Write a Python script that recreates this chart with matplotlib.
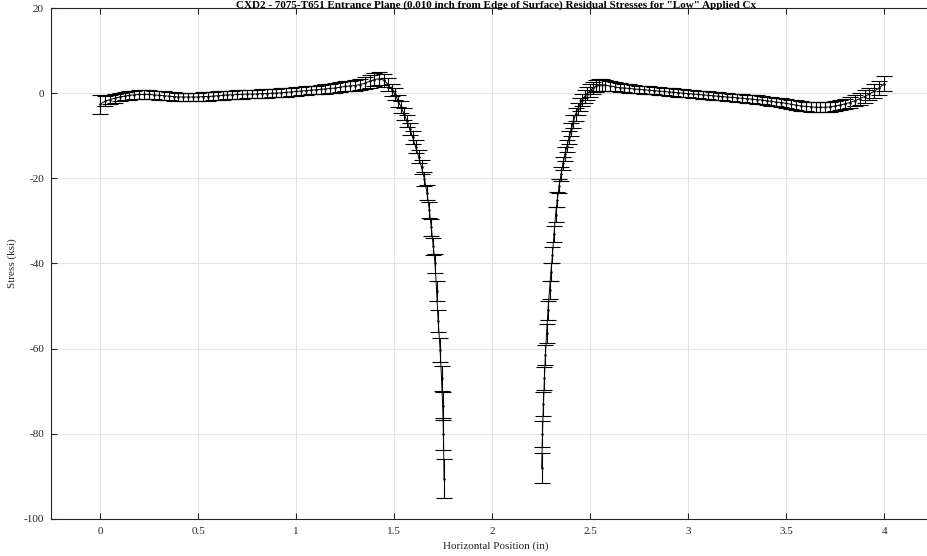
"""CXD2 entrance-plane residual stress profile with error bars."""

import matplotlib
matplotlib.use("Agg")
import matplotlib.pyplot as plt
from matplotlib.ticker import FuncFormatter, MultipleLocator

TITLE = ('CXD2 - 7075-T651 Entrance Plane (0.010 inch from Edge of Surface) '
         'Residual Stresses for "Low" Applied Cx')

# left branch (before the gap)
left_x = [0.000, 0.025, 0.050, 0.075, 0.100, 0.125, 0.150, 0.175, 0.200, 0.225,
          0.250, 0.275, 0.300, 0.325, 0.350, 0.375, 0.400, 0.425, 0.450, 0.475,
          0.500, 0.525, 0.550, 0.575, 0.600, 0.625, 0.650, 0.675, 0.700, 0.725,
          0.750, 0.775, 0.800, 0.825, 0.850, 0.875, 0.900, 0.925, 0.950, 0.975,
          1.000, 1.025, 1.050, 1.075, 1.100, 1.125, 1.150, 1.175, 1.200, 1.225,
          1.250, 1.275, 1.300, 1.325, 1.350, 1.375, 1.400, 1.425, 1.450, 1.470,
          1.490, 1.505, 1.520, 1.535, 1.550, 1.565, 1.580, 1.595, 1.610, 1.625,
          1.640, 1.655, 1.668, 1.680, 1.690, 1.700, 1.709, 1.717, 1.725, 1.735,
          1.742, 1.748, 1.752, 1.755]
left_y = [-2.6, -1.9, -1.5, -1.2, -0.9, -0.7, -0.5, -0.4, -0.3, -0.3,
          -0.3, -0.4, -0.5, -0.6, -0.7, -0.8, -0.9, -0.9, -0.9, -0.9,
          -0.9, -0.8, -0.8, -0.7, -0.6, -0.5, -0.4, -0.4, -0.3, -0.3,
          -0.2, -0.2, -0.2, -0.1, -0.1, 0.0, 0.0, 0.1, 0.2, 0.3,
          0.4, 0.5, 0.6, 0.7, 0.8, 0.9, 1.0, 1.1, 1.2, 1.4,
          1.6, 1.7, 1.8, 2.0, 2.3, 2.8, 3.2, 3.4, 3.0, 2.0,
          0.8, -0.3, -1.8, -3.2, -4.8, -6.5, -8.4, -10.4, -12.6, -14.9,
          -17.4, -20.2, -23.4, -27.5, -31.5, -36.0, -40.0, -46.5, -53.5, -60.3,
          -67.0, -73.5, -80.0, -90.5]
left_err = [2.2, 1.2, 1.0, 1.0, 1.0, 1.0, 1.0, 1.0, 1.0, 1.0,
            1.0, 1.0, 1.0, 1.0, 1.0, 1.0, 1.0, 1.0, 1.0, 1.0,
            1.0, 1.0, 1.0, 1.0, 1.0, 1.0, 1.0, 1.0, 1.0, 1.0,
            1.0, 1.0, 1.0, 1.0, 1.0, 1.0, 1.0, 1.0, 1.0, 1.0,
            1.0, 1.0, 1.0, 1.0, 1.0, 1.1, 1.1, 1.1, 1.2, 1.2,
            1.2, 1.2, 1.3, 1.3, 1.4, 1.5, 1.5, 1.5, 1.5, 1.5,
            1.4, 1.4, 1.4, 1.4, 1.4, 1.4, 1.5, 1.5, 1.5, 1.6,
            1.6, 1.7, 1.8, 1.9, 2.0, 2.1, 2.2, 2.4, 2.6, 2.8,
            3.0, 3.3, 3.8, 4.5]

# right branch (after the gap)
right_x = [2.253, 2.257, 2.262, 2.267, 2.272, 2.278, 2.285, 2.293, 2.300, 2.308,
           2.316, 2.324, 2.333, 2.342, 2.352, 2.362, 2.372, 2.382, 2.393, 2.404,
           2.415, 2.426, 2.437, 2.448, 2.460, 2.472, 2.485, 2.500, 2.515, 2.530,
           2.545, 2.560, 2.575, 2.600, 2.625, 2.650, 2.675, 2.700, 2.725, 2.750,
           2.775, 2.800, 2.825, 2.850, 2.875, 2.900, 2.925, 2.950, 2.975, 3.000,
           3.025, 3.050, 3.075, 3.100, 3.125, 3.150, 3.175, 3.200, 3.225, 3.250,
           3.275, 3.300, 3.325, 3.350, 3.375, 3.400, 3.425, 3.450, 3.475, 3.500,
           3.525, 3.550, 3.575, 3.600, 3.625, 3.650, 3.675, 3.700, 3.725, 3.750,
           3.775, 3.800, 3.825, 3.850, 3.875, 3.900, 3.925, 3.950, 3.975, 4.000]
right_y = [-88.0, -80.0, -73.0, -67.0, -61.5, -56.4, -51.0, -46.2, -42.0, -38.0,
           -33.0, -28.5, -25.0, -21.8, -19.0, -16.5, -14.3, -12.4, -10.4, -8.5,
           -6.6, -5.0, -3.7, -2.6, -1.6, -0.8, -0.1, 0.6, 1.2, 1.7,
           1.9, 2.0, 1.9, 1.7, 1.5, 1.3, 1.2, 1.1, 1.0, 0.9,
           0.8, 0.7, 0.6, 0.5, 0.4, 0.3, 0.2, 0.1, 0.0, -0.1,
           -0.2, -0.3, -0.4, -0.5, -0.6, -0.7, -0.8, -0.9, -1.0, -1.1,
           -1.2, -1.3, -1.4, -1.5, -1.6, -1.8, -1.9, -2.1, -2.2, -2.4,
           -2.6, -2.8, -3.0, -3.1, -3.2, -3.3, -3.3, -3.3, -3.2, -3.0,
           -2.8, -2.5, -2.2, -1.8, -1.3, -0.8, -0.2, 0.5, 1.2, 2.2]
right_err = [3.5, 3.0, 2.8, 2.6, 2.4, 2.3, 2.2, 2.1, 2.0, 1.9,
             1.9, 1.8, 1.8, 1.7, 1.7, 1.6, 1.6, 1.5, 1.5, 1.5,
             1.5, 1.5, 1.5, 1.5, 1.5, 1.5, 1.5, 1.5, 1.5, 1.4,
             1.4, 1.4, 1.3, 1.2, 1.1, 1.0, 1.0, 1.0, 1.0, 0.9,
             0.9, 0.9, 0.9, 0.9, 0.9, 0.9, 0.9, 0.9, 0.9, 0.9,
             0.9, 0.9, 0.9, 0.9, 0.9, 0.9, 0.9, 0.9, 0.9, 0.9,
             0.9, 0.9, 1.0, 1.0, 1.0, 1.0, 1.0, 1.0, 1.0, 1.0,
             1.1, 1.1, 1.1, 1.1, 1.2, 1.2, 1.2, 1.2, 1.2, 1.2,
             1.2, 1.2, 1.3, 1.3, 1.4, 1.5, 1.5, 1.6, 1.7, 1.8]

plt.rcParams["font.family"] = ["Liberation Serif", "DejaVu Serif"]
plt.rcParams["axes.unicode_minus"] = False

fig = plt.figure(figsize=(9.28, 5.56), dpi=100)
# axes run past the right edge of the figure, as in the source export
ax = fig.add_axes([51 / 928, 37 / 556, 890 / 928, 511 / 556])

for xs, ys, es in ((left_x, left_y, left_err), (right_x, right_y, right_err)):
    ax.errorbar(xs, ys, yerr=es, fmt=".-", color="black", markersize=1.5,
                linewidth=0.7, elinewidth=0.8, capsize=5.5, capthick=0.8)

ax.set_xlim(-0.25, 4.29)
ax.set_ylim(-100, 20)
ax.xaxis.set_major_locator(MultipleLocator(0.5))
ax.yaxis.set_major_locator(MultipleLocator(20))
ax.xaxis.set_major_formatter(FuncFormatter(lambda v, _: f"{v:g}"))
ax.grid(True, color="#e3e3e3", linewidth=0.8)
ax.set_axisbelow(True)

for side in ("top", "bottom", "left", "right"):
    ax.spines[side].set_color("#262626")
    ax.spines[side].set_linewidth(0.8)
ax.tick_params(direction="in", top=True, right=True, length=4, width=0.8,
               colors="#262626", labelsize=8)
ax.tick_params(axis="y", pad=5)
ax.tick_params(axis="x", pad=6)

ax.set_xlabel("Horizontal Position (in)", fontsize=8, color="#262626", labelpad=4)
ax.set_ylabel("Stress (ksi)", fontsize=8, color="#262626", labelpad=5)
ax.set_title(TITLE, fontsize=8, fontweight="bold", pad=0.5)

fig.savefig("out.png", dpi=100)
